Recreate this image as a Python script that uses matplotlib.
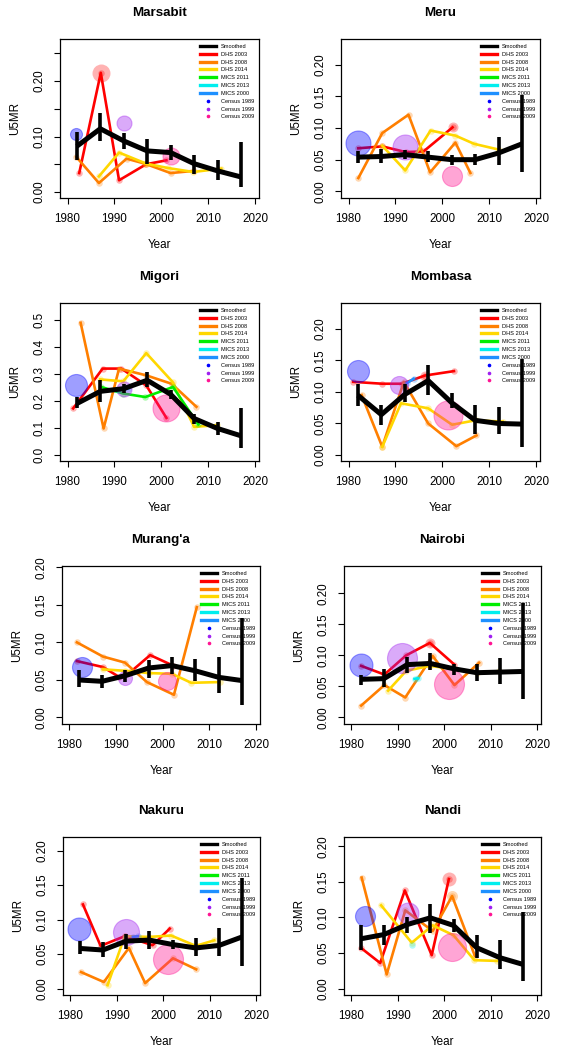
import matplotlib
matplotlib.use("Agg")
import matplotlib.pyplot as plt
from matplotlib.lines import Line2D
import numpy as np

plt.rcParams['font.family'] = ['Liberation Sans', 'DejaVu Sans']

W, H = 564, 1050

# smoothed estimates: common 5-year periods
smooth_years = [1982, 1987, 1992, 1997, 2002, 2007, 2012, 2017]

labels = ['Smoothed', 'DHS 2003', 'DHS 2008', 'DHS 2014', 'MICS 2011', 'MICS 2013',
          'MICS 2000', 'Census 1989', 'Census 1999', 'Census 2009']
survey_names = ['DHS 2003', 'DHS 2008', 'DHS 2014', 'MICS 2011', 'MICS 2013', 'MICS 2000']
census_names = ['Census 1989', 'Census 1999', 'Census 2009']

marsabit = {
    'smooth': [0.0825, 0.114, 0.092, 0.074, 0.071, 0.051, 0.038, 0.027],
    'lo': [0.058, 0.092, 0.077, 0.051, 0.057, 0.033, 0.022, 0.008],
    'hi': [0.108, 0.142, 0.107, 0.095, 0.084, 0.067, 0.058, 0.090],
    'DHS 2003': ([1982.5, 1987.1, 1991.0, 1996.8, 2001.1], [0.034, 0.215, 0.021, 0.050, 0.057]),
    'DHS 2008': ([1981.9, 1986.7, 1992.6, 1996.5, 2002.0, 2007.0], [0.063, 0.016, 0.060, 0.051, 0.034, 0.038]),
    'DHS 2014': ([1986.7, 1991.0, 1996.8, 2001.5, 2006.8, 2012.8], [0.028, 0.071, 0.051, 0.043, 0.036, 0.042]),
    'Census 1989': (1981.9, 0.105, 6), 'Census 1999': (1992.0, 0.125, 7.5), 'Census 2009': (2002.0, 0.064, 8.5),
}
meru = {
    'smooth': [0.054, 0.055, 0.058, 0.054, 0.050, 0.050, 0.0605, 0.075],
    'lo': [0.045, 0.045, 0.051, 0.046, 0.042, 0.041, 0.041, 0.030],
    'hi': [0.063, 0.067, 0.065, 0.063, 0.058, 0.059, 0.086, 0.152],
    'DHS 2003': ([1982.1, 1987.2, 1992.2, 1996.0, 2002.2], [0.068, 0.071, 0.062, 0.063, 0.101]),
    'DHS 2008': ([1982.1, 1987.2, 1992.8, 1997.4, 2002.8, 2006.0], [0.021, 0.092, 0.121, 0.030, 0.077, 0.029]),
    'DHS 2014': ([1987.2, 1992.1, 1997.5, 2002.8, 2006.8, 2012.0], [0.072, 0.033, 0.096, 0.088, 0.075, 0.066]),
    'Census 1989': (1982.0, 0.076, 12.5), 'Census 1999': (1992.0, 0.070, 12.5), 'Census 2009': (2002.0, 0.025, 10),
}
migori = {
    'smooth': [0.190, 0.235, 0.245, 0.276, 0.224, 0.135, 0.098, 0.071],
    'lo': [0.172, 0.194, 0.230, 0.251, 0.206, 0.113, 0.074, 0.027],
    'hi': [0.214, 0.276, 0.263, 0.306, 0.239, 0.150, 0.123, 0.174],
    'DHS 2003': ([1981.2, 1987.5, 1991.5, 1996.8, 2001.1], [0.172, 0.319, 0.319, 0.257, 0.137]),
    'DHS 2008': ([1982.8, 1987.7, 1991.0, 1996.8, 2002.2, 2007.5], [0.488, 0.098, 0.319, 0.294, 0.263, 0.178]),
    'DHS 2014': ([1987.0, 1991.9, 1996.8, 2002.4, 2007.0, 2011.8], [0.279, 0.272, 0.376, 0.270, 0.104, 0.110]),
    'MICS 2011': ([1987.2, 1991.9, 1996.6, 2002.5, 2007.9], [0.251, 0.227, 0.214, 0.251, 0.113]),
    'MICS 2013': ([1990.8, 1992.9], [0.239, 0.245]),
    'Census 1989': (1981.8, 0.260, 11), 'Census 1999': (1992.0, 0.245, 7.5), 'Census 2009': (2001.1, 0.174, 13.5),
}
mombasa = {
    'smooth': [0.0947, 0.064, 0.096, 0.118, 0.083, 0.055, 0.050, 0.049],
    'lo': [0.078, 0.047, 0.084, 0.095, 0.074, 0.033, 0.033, 0.013],
    'hi': [0.113, 0.080, 0.113, 0.143, 0.098, 0.079, 0.076, 0.153],
    'DHS 2003': ([1981.0, 1987.2, 1991.4, 1996.3, 2002.5], [0.116, 0.113, 0.113, 0.126, 0.133]),
    'DHS 2008': ([1982.8, 1987.2, 1991.8, 1997.0, 2003.0, 2007.3], [0.095, 0.013, 0.116, 0.050, 0.014, 0.031]),
    'DHS 2014': ([1987.2, 1991.2, 1997.0, 2002.1, 2007.1, 2012.9], [0.013, 0.082, 0.074, 0.048, 0.055, 0.053]),
    'MICS 2000': ([1992.5, 1993.9], [0.114, 0.121]),
    'Census 1989': (1982.1, 0.133, 11), 'Census 1999': (1990.8, 0.111, 9), 'Census 2009': (2001.3, 0.063, 14.5),
}
muranga = {
    'smooth': [0.0498, 0.048, 0.0556, 0.0658, 0.069, 0.062, 0.0533, 0.049],
    'lo': [0.040, 0.039, 0.047, 0.053, 0.058, 0.048, 0.033, 0.016],
    'hi': [0.063, 0.057, 0.063, 0.076, 0.080, 0.078, 0.081, 0.132],
    'DHS 2003': ([1981.6, 1987.2, 1990.6, 1993.0, 1997.3, 2002.2], [0.075, 0.067, 0.054, 0.060, 0.083, 0.069]),
    'DHS 2008': ([1981.6, 1987.2, 1991.9, 1996.6, 2002.4, 2007.3], [0.100, 0.081, 0.073, 0.047, 0.030, 0.147]),
    'DHS 2014': ([1987.2, 1992.0, 1997.0, 2002.0, 2006.1, 2012.2], [0.064, 0.062, 0.059, 0.058, 0.046, 0.047]),
    'Census 1989': (1982.6, 0.067, 10), 'Census 1999': (1992.0, 0.053, 7), 'Census 2009': (2000.9, 0.048, 9),
}
nairobi = {
    'smooth': [0.0613, 0.0624, 0.085, 0.0869, 0.0784, 0.072, 0.073, 0.074],
    'lo': [0.052, 0.049, 0.072, 0.076, 0.069, 0.058, 0.054, 0.029],
    'hi': [0.069, 0.078, 0.097, 0.104, 0.086, 0.086, 0.096, 0.184],
    'DHS 2003': ([1982.1, 1987.1, 1991.8, 1996.9, 2002.2], [0.083, 0.069, 0.100, 0.120, 0.085]),
    'DHS 2008': ([1982.1, 1987.1, 1991.6, 1997.5, 2002.2, 2007.5], [0.019, 0.052, 0.032, 0.099, 0.052, 0.088]),
    'DHS 2014': ([1987.9, 1991.8, 1996.9, 2002.0, 2007.0, 2011.8], [0.043, 0.075, 0.083, 0.078, 0.072, 0.074]),
    'MICS 2013': ([1993.6, 1994.4], [0.062, 0.063]),
    'Census 1989': (1982.1, 0.085, 11.5), 'Census 1999': (1990.9, 0.096, 15), 'Census 2009': (2001.0, 0.053, 15),
}
nakuru = {
    'smooth': [0.0583, 0.056, 0.0689, 0.0704, 0.064, 0.059, 0.0626, 0.075],
    'lo': [0.050, 0.046, 0.058, 0.058, 0.057, 0.048, 0.047, 0.033],
    'hi': [0.069, 0.067, 0.0785, 0.083, 0.071, 0.074, 0.088, 0.160],
    'DHS 2003': ([1982.7, 1986.5, 1991.7, 1997.7, 2001.4], [0.122, 0.062, 0.076, 0.063, 0.087]),
    'DHS 2008': ([1982.3, 1987.2, 1992.6, 1996.1, 2002.1, 2007.1], [0.024, 0.0096, 0.059, 0.008, 0.044, 0.028]),
    'DHS 2014': ([1988.0, 1991.7, 1997.0, 2001.7, 2007.0, 2011.0], [0.005, 0.076, 0.075, 0.077, 0.062, 0.070]),
    'MICS 2000': ([1993.5, 1994.5], [0.075, 0.076]),
    'Census 1989': (1981.9, 0.087, 11.5), 'Census 1999': (1991.9, 0.082, 13), 'Census 2009': (2001.0, 0.043, 15),
}
nandi = {
    'smooth': [0.070, 0.076, 0.090, 0.0995, 0.0888, 0.0575, 0.0435, 0.034],
    'lo': [0.055, 0.062, 0.0785, 0.0785, 0.079, 0.0435, 0.028, 0.011],
    'hi': [0.089, 0.090, 0.101, 0.1196, 0.098, 0.076, 0.069, 0.1075],
    'DHS 2003': ([1982.1, 1986.2, 1991.5, 1997.3, 2001.0], [0.057, 0.036, 0.138, 0.047, 0.154]),
    'DHS 2008': ([1982.2, 1987.6, 1991.6, 1997.5, 2001.7, 2006.6], [0.156, 0.020, 0.110, 0.081, 0.130, 0.046]),
    'DHS 2014': ([1986.4, 1993.0, 1997.5, 2002.0, 2006.5, 2011.3], [0.117, 0.0645, 0.089, 0.075, 0.040, 0.039]),
    'MICS 2013': ([1993.0], [0.061]),
    'Census 1989': (1983.0, 0.102, 10), 'Census 1999': (1992.2, 0.106, 10.5), 'Census 2009': (2001.7, 0.059, 14),
}

# a few survey points drawn with a bigger halo (county, survey, index, radius px)
big_points = [('Marsabit', 'DHS 2003', 1, 9), ('Meru', 'DHS 2003', 4, 5), ('Nandi', 'DHS 2003', 4, 7),
              ('Nandi', 'DHS 2008', 4, 5.5), ('Mombasa', 'DHS 2003', 3, 5), ('Nairobi', 'DHS 2003', 3, 5)]

counties = ['Marsabit', 'Meru', 'Migori', 'Mombasa', "Murang'a", 'Nairobi', 'Nakuru', 'Nandi']
county_data = [marsabit, meru, migori, mombasa, muranga, nairobi, nakuru, nandi]
ylims = [(-0.011, 0.276), (-0.0105, 0.2405), (-0.022, 0.561), (-0.0095, 0.241),
         (-0.009, 0.202), (-0.0107, 0.244), (-0.0092, 0.2198), (-0.0089, 0.213)]
yticks = [np.arange(0, 0.26, 0.05), np.arange(0, 0.21, 0.05), np.arange(0, 0.51, 0.1),
          np.arange(0, 0.21, 0.05), np.arange(0, 0.21, 0.05), np.arange(0, 0.21, 0.05),
          np.arange(0, 0.21, 0.05), np.arange(0, 0.21, 0.05)]

colors = {'Smoothed': 'black', 'DHS 2003': '#FF0000', 'DHS 2008': '#FF7F00', 'DHS 2014': '#FFD700',
          'MICS 2011': '#00EE00', 'MICS 2013': '#00EEEE', 'MICS 2000': '#1E90FF',
          'Census 1989': '#0000FF', 'Census 1999': '#A020F0', 'Census 2009': '#FF1493'}

# axes boxes in pixels: left, top, right, bottom
boxes = [(60, 39, 259, 198), (341, 39, 540, 198),
         (60, 303, 259, 461), (341, 303, 540, 461),
         (62, 566, 260, 724), (344, 566, 541, 724),
         (63, 837, 260, 995), (344, 837, 541, 995)]

fig = plt.figure(figsize=(W / 100, H / 100), dpi=100)

for i, (name, d) in enumerate(zip(counties, county_data)):
    l, t, r, b = boxes[i]
    ax = fig.add_axes([l / W, 1 - b / H, (r - l) / W, (b - t) / H])
    # survey lines
    for s in survey_names:
        if s in d:
            xs, ys = d[s]
            ax.plot(xs, ys, color=colors[s], lw=1.9, zorder=2)
            ax.scatter(xs, ys, s=22, color=colors[s], alpha=0.3, lw=0, zorder=2)
    for cn, s, k, rad in big_points:
        if cn == name:
            xs, ys = d[s]
            ax.scatter([xs[k]], [ys[k]], s=(rad * 0.72 * 2) ** 2, color=colors[s], alpha=0.3,
                       lw=0, zorder=2)
    # census points
    for c in census_names:
        x, y, rad = d[c]
        ax.scatter([x], [y], s=(rad * 0.72 * 2) ** 2, color=colors[c], alpha=0.38,
                   edgecolors=colors[c], linewidths=0.8, zorder=3)
    # smoothed with intervals
    ax.plot(smooth_years, d['smooth'], color='black', lw=3.6, zorder=4, solid_capstyle='butt')
    ax.vlines(smooth_years, d['lo'], d['hi'], color='black', lw=2.6, zorder=4)

    ax.set_xlim(1978.4, 2020.85)
    ax.set_ylim(*ylims[i])
    ax.set_xticks([1980, 1990, 2000, 2010, 2020])
    ax.set_yticks(yticks[i])
    if i == 0:
        ax.set_yticklabels(['0.00', '', '0.10', '', '0.20', ''])
    elif i == 2:
        ax.set_yticklabels(['%.1f' % v for v in yticks[i]])
    else:
        ax.set_yticklabels(['%.2f' % v for v in yticks[i]])
    ax.tick_params(labelsize=8.4, length=4.5, width=0.8, pad=6)
    for lab in ax.get_yticklabels():
        lab.set_rotation(90)
        lab.set_va('center')
    for sp in ax.spines.values():
        sp.set_linewidth(0.9)

    handles = [Line2D([], [], color='black', lw=2.4)]
    for s in survey_names:
        handles.append(Line2D([], [], color=colors[s], lw=2.4))
    for c in census_names:
        handles.append(Line2D([], [], color=colors[c], marker='o', ms=1.6, lw=0))
    ax.legend(handles, labels, loc='upper right', fontsize=4.1, frameon=False,
              handlelength=2.9, labelspacing=0.5, borderaxespad=0.45, handletextpad=0.8)

    cx = (l + r) / 2
    fig.text(cx / W, 1 - (t - 26) / H, name, ha='center', va='center',
             fontsize=9.6, fontweight='bold')
    fig.text(cx / W, 1 - (b + 47) / H, 'Year', ha='center', va='center', fontsize=8.4)
    fig.text((l - 45) / W, 1 - ((t + b) / 2) / H, 'U5MR', ha='center', va='center',
             rotation=90, fontsize=8.4)

fig.savefig('out.png', dpi=100)
